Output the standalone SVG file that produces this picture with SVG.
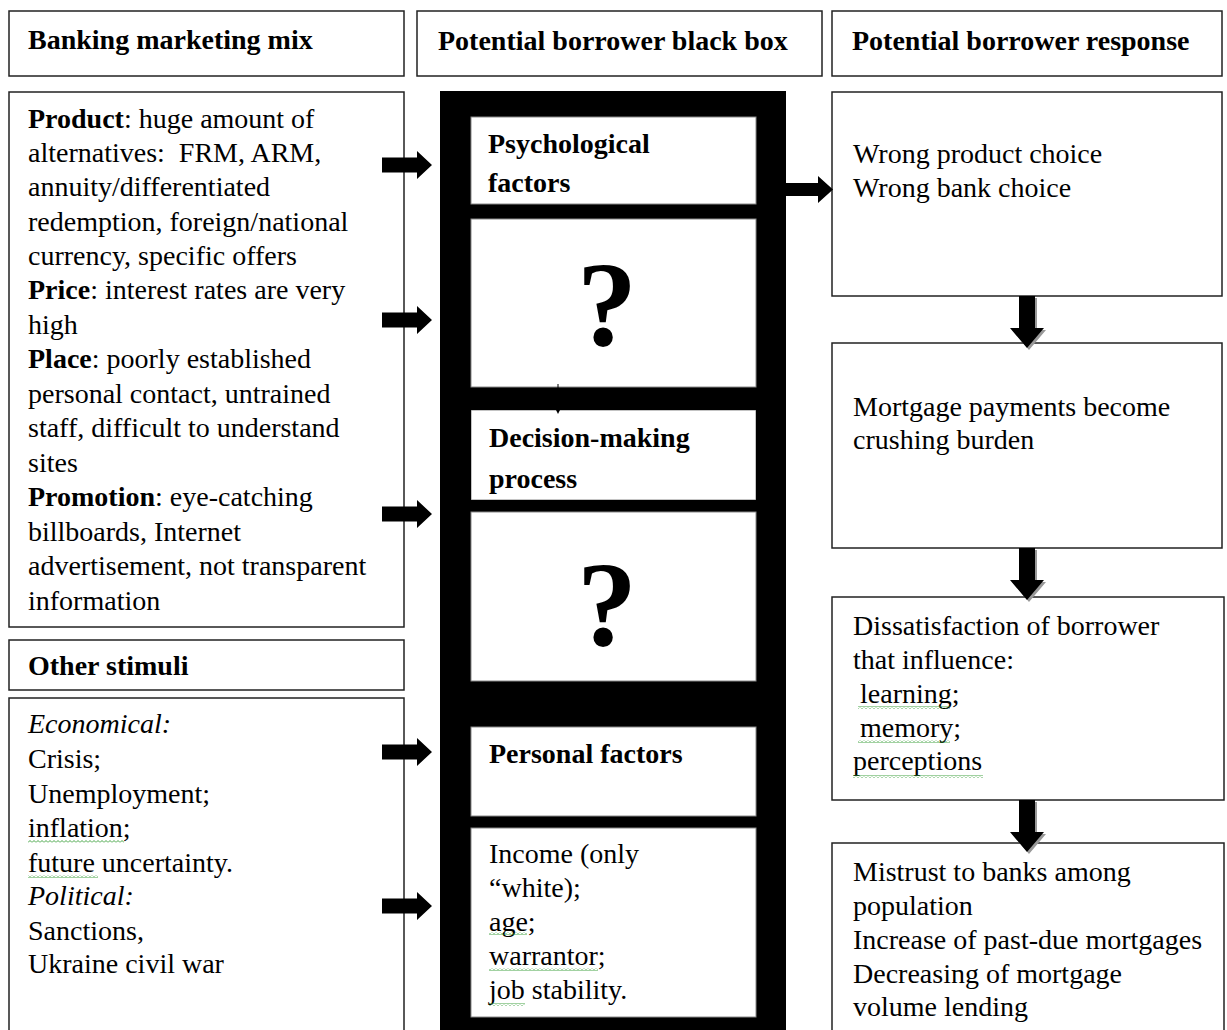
<svg xmlns="http://www.w3.org/2000/svg" width="1227" height="1030" viewBox="0 0 1227 1030">
<style>
text{font-family:"Liberation Serif","Times New Roman",serif;font-size:28px;fill:#000}
.b{font-weight:bold}
.i{font-style:italic}
.box{fill:#fff;stroke:#222;stroke-width:1.5}
.inner{fill:#fff;stroke:#888;stroke-width:1}
.q{font-weight:bold;font-size:120px;text-anchor:middle}
.sq{fill:url(#squiggle)}
</style>
<defs>
<pattern id="squiggle" width="4" height="3" patternUnits="userSpaceOnUse">
<path d="M0 2.5 L2 0.5 L4 2.5" fill="none" stroke="#2e9a2e" stroke-width="0.9"/>
</pattern>
<path id="harr" d="M0 -7.5 H35 V-14 L50 0 L35 14 V7.5 H0 Z"/>
<path id="darr" d="M-8 0 H8 V32 H17 L0 52 L-17 32 H-8 Z"/>
</defs>

<g id="header-mix"><rect class="box" x="9" y="11" width="395" height="65"/><text class="b" x="28" y="49">Banking marketing mix</text></g>
<g id="header-blackbox"><rect class="box" x="417" y="11" width="405" height="65"/><text class="b" x="438" y="50">Potential borrower black box</text></g>
<g id="header-response"><rect class="box" x="832" y="11" width="390" height="65"/><text class="b" x="852" y="50">Potential borrower response</text></g>

<g id="marketing-mix">
<rect class="box" x="9" y="92" width="395" height="535"/>
<text x="28" y="128"><tspan class="b">Product</tspan>: huge amount of</text>
<text x="28" y="162" xml:space="preserve">alternatives:  FRM, ARM,</text>
<text x="28" y="196">annuity/differentiated</text>
<text x="28" y="231">redemption, foreign/national</text>
<text x="28" y="265">currency, specific offers</text>
<text x="28" y="299"><tspan class="b">Price</tspan>: interest rates are very</text>
<text x="28" y="334">high</text>
<text x="28" y="368"><tspan class="b">Place</tspan>: poorly established</text>
<text x="28" y="403">personal contact, untrained</text>
<text x="28" y="437">staff, difficult to understand</text>
<text x="28" y="472">sites</text>
<text x="28" y="506"><tspan class="b">Promotion</tspan>: eye-catching</text>
<text x="28" y="541">billboards, Internet</text>
<text x="28" y="575">advertisement, not transparent</text>
<text x="28" y="610">information</text>
</g>

<g id="other-stimuli-header"><rect class="box" x="9" y="640" width="395" height="50"/><text class="b" x="28" y="675">Other stimuli</text></g>

<g id="other-stimuli">
<rect class="box" x="9" y="698" width="395" height="340"/>
<text class="i" x="28" y="733">Economical:</text>
<text x="28" y="768">Crisis;</text>
<text x="28" y="803">Unemployment;</text>
<text x="28" y="837">inflation;</text>
<rect class="sq" x="28" y="840" width="96" height="3"/>
<text x="28" y="872">future uncertainty.</text>
<rect class="sq" x="28" y="875" width="70" height="3"/>
<text class="i" x="28" y="905">Political:</text>
<text x="28" y="940">Sanctions,</text>
<text x="28" y="973">Ukraine civil war</text>
</g>

<g id="black-box">
<rect x="440" y="91" width="346" height="945" fill="#000"/>
<g id="psychological"><rect class="inner" x="471" y="117" width="285" height="87"/><text class="b" x="488" y="153">Psychological</text><text class="b" x="488" y="192">factors</text></g>
<g id="unknown-1"><rect class="inner" x="471" y="219" width="285" height="168"/><text class="q" x="607" y="345">?</text></g>
<g id="decision"><svg x="471" y="410" width="285" height="90" overflow="hidden"><rect class="inner" x="0" y="0" width="285" height="90"/><text class="b" x="18" y="37">Decision-making</text><text class="b" x="18" y="78">process</text></svg></g>
<g id="unknown-2"><rect class="inner" x="471" y="512" width="285" height="169"/><text class="q" x="607" y="645">?</text></g>
<g id="personal"><rect class="inner" x="471" y="727" width="285" height="89"/><text class="b" x="489" y="763">Personal factors</text></g>
<g id="personal-list"><rect class="inner" x="471" y="828" width="285" height="189"/>
<text x="489" y="863">Income (only</text>
<text x="489" y="897">“white);</text>
<text x="489" y="931">age;</text>
<rect class="sq" x="489" y="932" width="38" height="3"/>
<text x="489" y="965">warrantor;</text>
<rect class="sq" x="489" y="968" width="109" height="3"/>
<text x="489" y="999">job stability.</text>
<rect class="sq" x="489" y="1003" width="36" height="3"/>
</g>
</g>

<g id="response-1"><rect class="box" x="832" y="92" width="390" height="204"/><text x="853" y="163">Wrong product choice</text><text x="853" y="197">Wrong bank choice</text></g>
<g id="response-2"><rect class="box" x="832" y="343" width="390" height="205"/><text x="853" y="416">Mortgage payments become</text><text x="853" y="449">crushing burden</text></g>
<g id="response-3"><rect class="box" x="832" y="597" width="392" height="203"/>
<text x="853" y="635">Dissatisfaction of borrower</text>
<text x="853" y="669">that influence:</text>
<text x="853" y="703">&#160;learning;</text>
<rect class="sq" x="858" y="706" width="92" height="3"/>
<text x="853" y="737">&#160;memory;</text>
<rect class="sq" x="858" y="740" width="92" height="3"/>
<text x="853" y="770">perceptions</text>
<rect class="sq" x="853" y="775" width="130" height="3"/>
</g>
<g id="response-4"><rect class="box" x="832" y="843" width="392" height="200"/>
<text x="853" y="881">Mistrust to banks among</text>
<text x="853" y="915">population</text>
<text x="853" y="949">Increase of past-due mortgages</text>
<text x="853" y="983">Decreasing of mortgage</text>
<text x="853" y="1016">volume lending</text>
</g>

<g id="connectors">
<use href="#harr" x="382" y="165"/>
<use href="#harr" x="382" y="320"/>
<use href="#harr" x="382" y="514"/>
<use href="#harr" x="382" y="752"/>
<use href="#harr" x="382" y="906"/>
<path d="M786 183 H818 V176 L833 189.5 L818 203 V196 H786 Z"/>
<line x1="558" y1="384" x2="558" y2="409" stroke="#000" stroke-width="1"/>
<path d="M555 408 L561 408 L558 414 Z"/>
<g fill="#999" transform="translate(2,2)">
<use href="#darr" x="1027" y="296"/>
<use href="#darr" x="1027" y="548"/>
<use href="#darr" x="1027" y="800"/>
</g>
<use href="#darr" x="1027" y="296"/>
<use href="#darr" x="1027" y="548"/>
<use href="#darr" x="1027" y="800"/>
</g>
</svg>
